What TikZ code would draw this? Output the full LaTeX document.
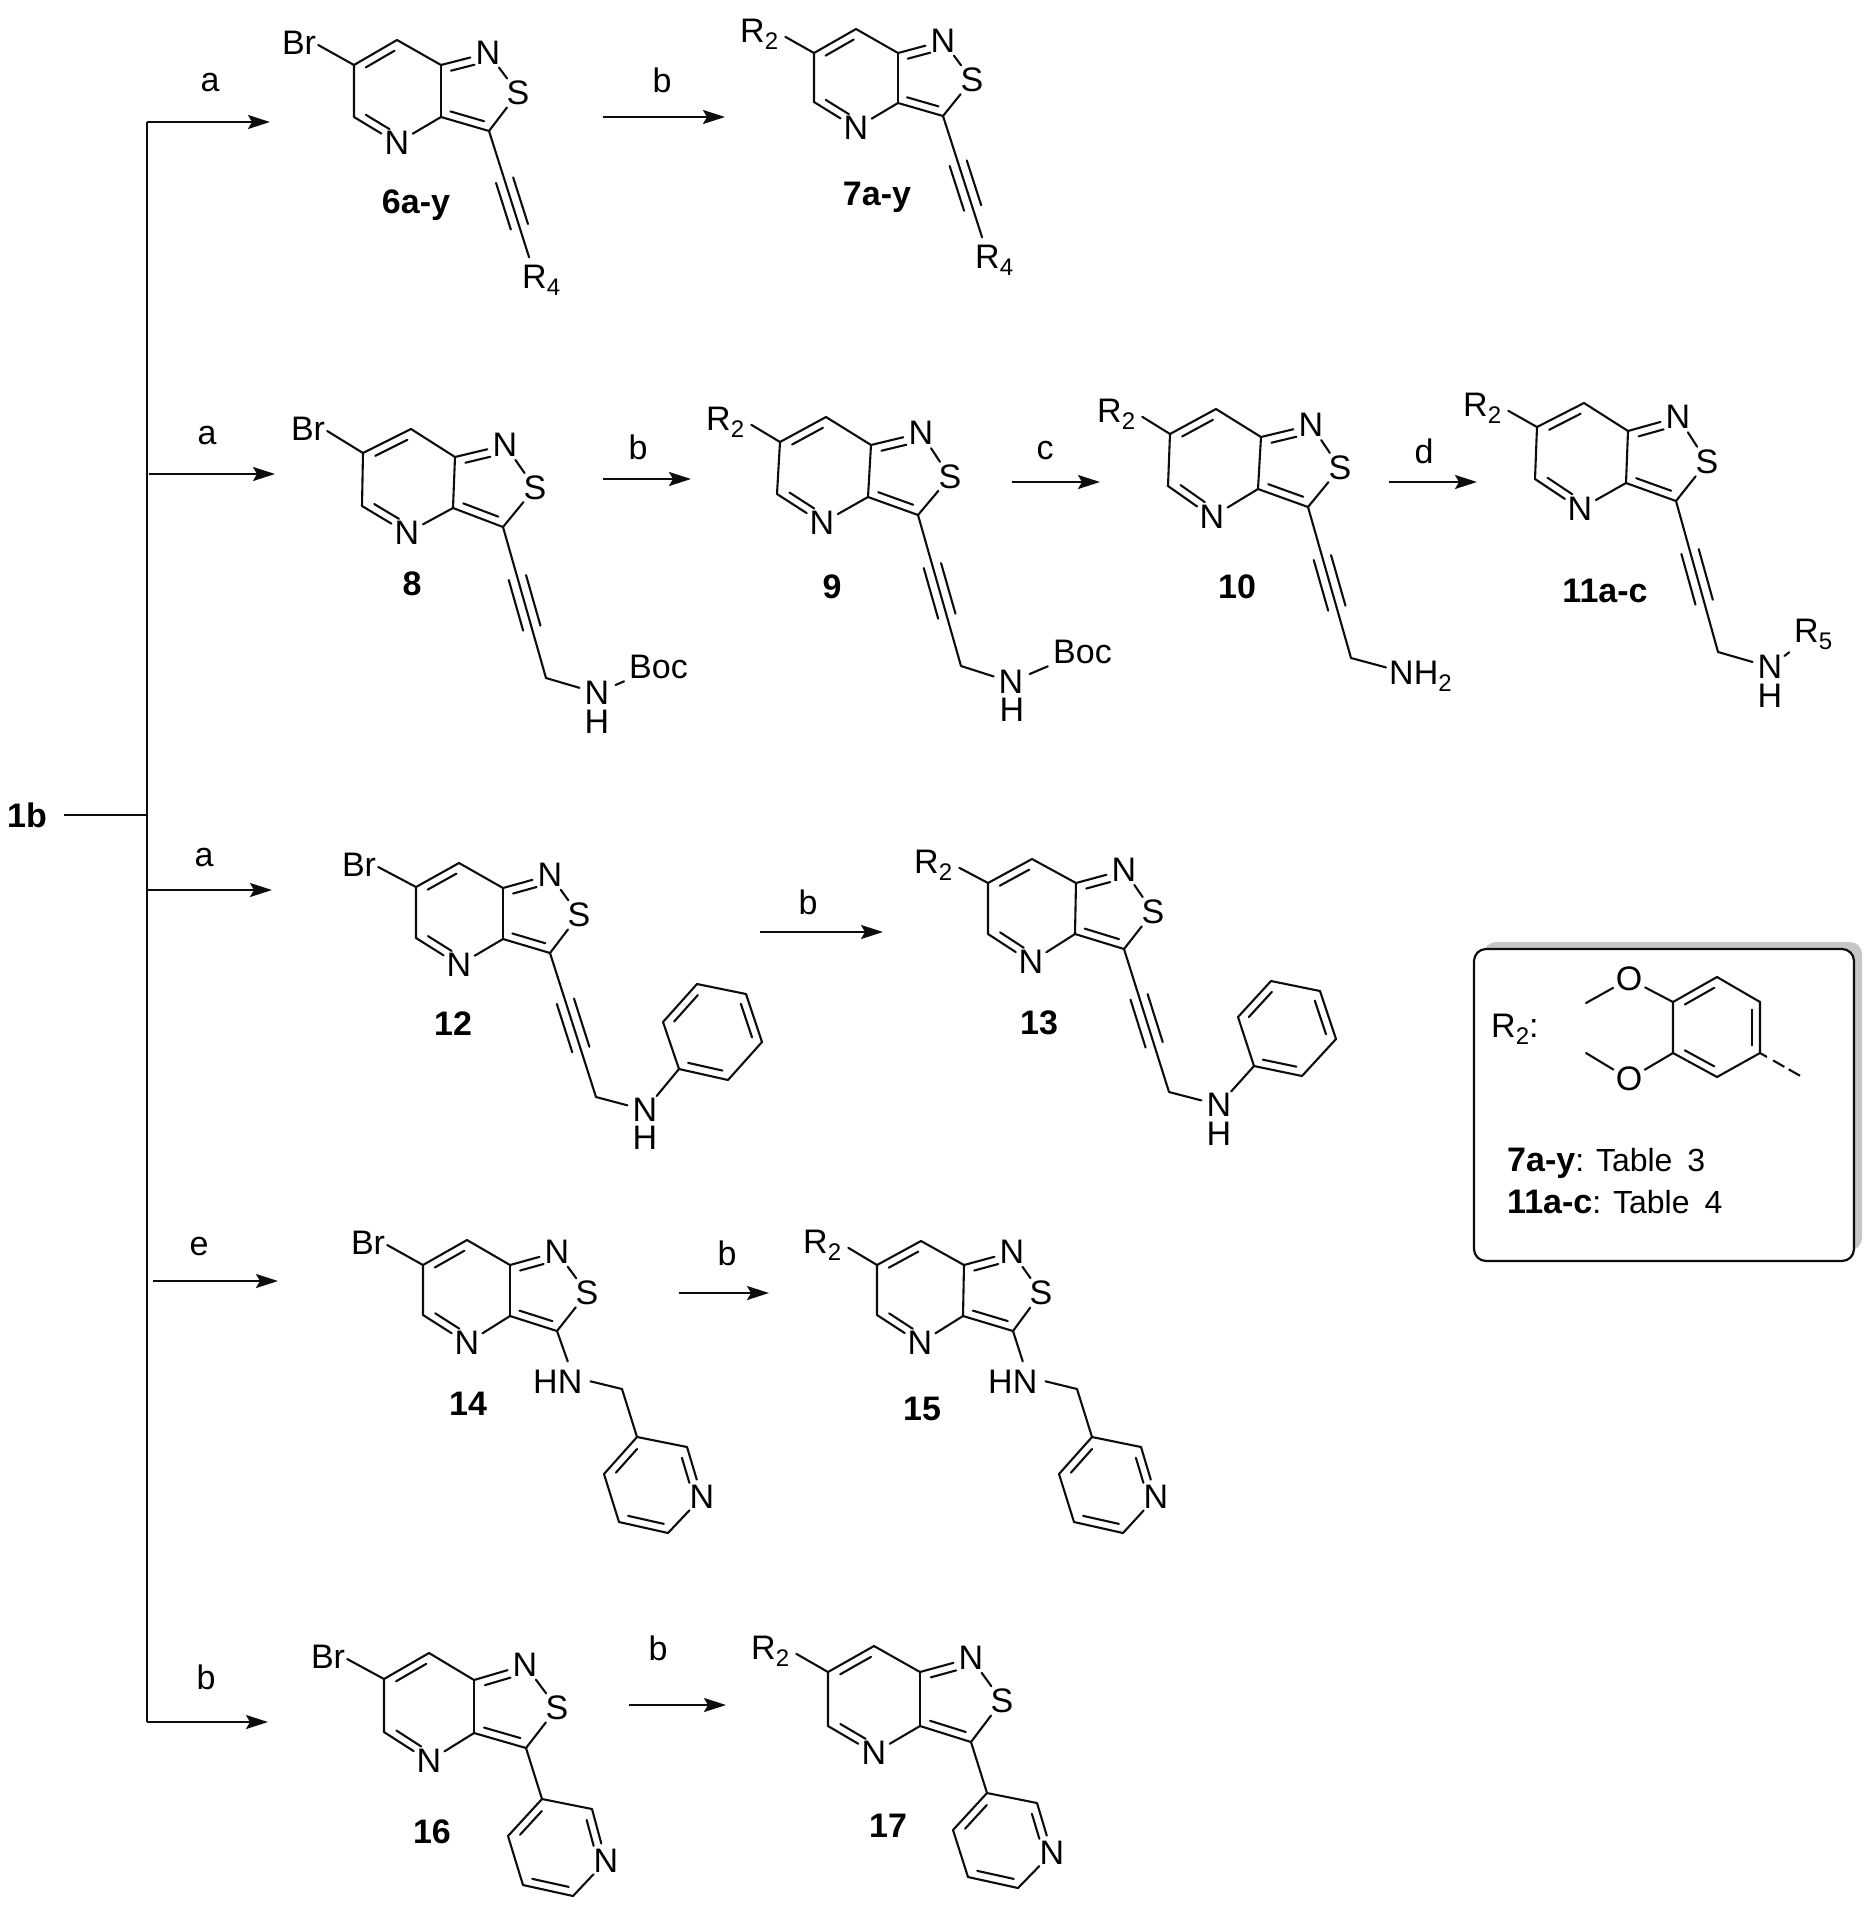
\documentclass[tikz,border=0pt]{standalone}
\usepackage{fontspec}
\setmainfont{Liberation Sans}
\usetikzlibrary{calc,arrows.meta}
\newcommand\chem{\fontsize{34}{38}\selectfont}
\newcommand\boxfont{\fontsize{32}{36}\selectfont}
\newcommand\cmpfont{\fontsize{34}{38}\selectfont\bfseries}
\newcommand\sbb[1]{\raisebox{-7pt}{\fontsize{24}{26}\selectfont #1}}
\tikzset{
  bond/.style={line width=2.1pt,line cap=round,line join=round,draw=black!95},
  rxn/.style={line width=2pt,draw=black!95},
  rxnarrow/.style={rxn,-{Stealth[length=22pt,width=14pt,inset=4pt]}},
  atom/.style={circle,inner sep=0pt,minimum size=36pt,font=\chem,text=black},
  lab/.style={inner sep=0pt,font=\chem,text=black},
  cmp/.style={inner sep=0pt,font=\cmpfont,text=black},
}
\newcommand\dbl[4]{\draw[bond] ($(\mol#1)!#3!(\mol#2)!8pt!-90:(\mol#2)$) -- ($(\mol#1)!#4!(\mol#2)!8pt!-90:(\mol#2)$);}
\newcommand\alkyne[4]{%
  \draw[bond] (\mol#1) -- (\mol#2);
  \draw[bond] ($(\mol#1)!#3!(\mol#2)!9pt!90:(\mol#2)$) -- ($(\mol#1)!#4!(\mol#2)!9pt!90:(\mol#2)$);
  \draw[bond] ($(\mol#1)!#3!(\mol#2)!9pt!-90:(\mol#2)$) -- ($(\mol#1)!#4!(\mol#2)!9pt!-90:(\mol#2)$);}
\newcommand\core[9]{%
  \coordinate (\mol c6) at (#1); \coordinate (\mol c7) at (#2); \coordinate (\mol c7a) at (#3);
  \node[atom] (\mol n1) at (#4) {N}; \node[atom] (\mol s) at (#5) {S};
  \coordinate (\mol c3) at (#6); \coordinate (\mol c3a) at (#7);
  \node[atom] (\mol n4) at (#8) {N}; \coordinate (\mol c5) at (#9);
  \draw[bond] (\mol c6)--(\mol c7)--(\mol c7a)--(\mol n1)--(\mol s)--(\mol c3)--(\mol c3a)--(\mol n4)--(\mol c5)--(\mol c6);
  \draw[bond] (\mol c7a)--(\mol c3a);
  \dbl{c6}{c7}{.18}{.85}\dbl{c7a}{n1}{.17}{.67}\dbl{c3}{c3a}{.15}{.85}\dbl{n4}{c5}{.27}{.82}}
\newcommand\brs[1]{\node[lab] (\mol br) at (#1) {Br}; \draw[bond] (\mol c6) -- ($(\mol br.east)+(2,2)$);}
\newcommand\rtwo[1]{\node[lab,anchor=base west,xshift=-3pt] (\mol rtwo) at (#1) {R\sbb{2}}; \draw[bond] (\mol c6) -- ($(\mol rtwo.east)+(7,3)$);}
\newcommand\rfour[2]{\coordinate (\mol end) at (#1);
  \node[lab,anchor=base west,xshift=-3pt] (\mol rfour) at (#2) {R\sbb{4}};
  \draw[bond] (\mol end) -- ($(\mol rfour.north west)+(7,-7)$);
  \alkyne{c3}{end}{.39}{.76}}
\newcommand\propn[3]{\coordinate (\mol ch2) at (#1); \node[atom] (\mol nh) at (#2) {N}; \node[lab] (\mol h) at (#3) {H};
  \alkyne{c3}{ch2}{.335}{.67} \draw[bond] (\mol ch2)--(\mol nh);}
\newcommand\ring[6]{%
  \coordinate (\mol ra) at (#1); \coordinate (\mol rb) at (#2); \coordinate (\mol rc) at (#3);
  \coordinate (\mol rd) at (#4); \coordinate (\mol re) at (#5); \coordinate (\mol rf) at (#6);
  \draw[bond] (\mol ra)--(\mol rb)--(\mol rc)--(\mol rd)--(\mol re)--(\mol rf)--(\mol ra);
  \dbl{rf}{ra}{.15}{.85}\dbl{rb}{rc}{.15}{.85}\dbl{rd}{re}{.15}{.85}}
\newcommand\pyr[6]{%
  \coordinate (\mol pa) at (#1); \coordinate (\mol pb) at (#2); \node[atom] (\mol pn) at (#3) {N};
  \coordinate (\mol pc) at (#4); \coordinate (\mol pd) at (#5); \coordinate (\mol pe) at (#6);
  \draw[bond] (\mol pa)--(\mol pb)--(\mol pn)--(\mol pc)--(\mol pd)--(\mol pe)--(\mol pa);
  \dbl{pb}{pn}{.17}{.67}\dbl{pc}{pd}{.12}{.85}\dbl{pe}{pa}{.18}{.82}}
\newcommand\benamine[2]{\coordinate (\mol cm) at (#1); \node[lab,anchor=base west,xshift=-3pt] (\mol hn) at (#2) {HN};
  \draw[bond] (\mol c3) -- ($(\mol hn.north)+(10,-8)$);
  \draw[bond] ($(\mol hn.east)+(8,0)$) -- (\mol cm) -- (\mol pa);}
\begin{document}
\begin{tikzpicture}[x=1pt,y=-1pt]
\path[use as bounding box,fill=white] (0,0) rectangle (1873,1909);
% ---- reaction tree
\node[cmp] (start) at (27,815) {1b};
\coordinate (tt) at (146.5,122); \coordinate (tb) at (146.5,1722); \coordinate (jn) at (146.5,815);
\draw[rxn] (tt) -- (tb);
\draw[rxn,shorten <=17pt] (start) -- (jn);
\coordinate (a1e) at (270,122);
\draw[rxnarrow] (tt) -- (a1e); \node[lab] (la1) at (210,83) {a};
\coordinate (a2s) at (149,474); \coordinate (a2e) at (275,474);
\draw[rxnarrow] (a2s) -- (a2e); \node[lab] (la2) at (207,436) {a};
\coordinate (a3s) at (146.5,890); \coordinate (a3e) at (272,890);
\draw[rxnarrow] (a3s) -- (a3e); \node[lab] (la3) at (204,858) {a};
\coordinate (a4s) at (152.5,1281); \coordinate (a4e) at (278,1281);
\draw[rxnarrow] (a4s) -- (a4e); \node[lab] (la4) at (199,1247) {e};
\coordinate (a5e) at (268,1722);
\draw[rxnarrow] (tb) -- (a5e); \node[lab] (la5) at (206,1677) {b};
% ---- step arrows
\coordinate (s1s) at (603,117); \coordinate (s1e) at (725,117);
\draw[rxnarrow] (s1s) -- (s1e); \node[lab] (ls1) at (662,80) {b};
\coordinate (s2s) at (603,479); \coordinate (s2e) at (691,479);
\draw[rxnarrow] (s2s) -- (s2e); \node[lab] (ls2) at (638,447) {b};
\coordinate (s3s) at (1012,482); \coordinate (s3e) at (1100,482);
\draw[rxnarrow] (s3s) -- (s3e); \node[lab] (ls3) at (1045,451) {c};
\coordinate (s4s) at (1389,482); \coordinate (s4e) at (1477,482);
\draw[rxnarrow] (s4s) -- (s4e); \node[lab] (ls4) at (1424,451) {d};
\coordinate (s5s) at (760,932); \coordinate (s5e) at (883,932);
\draw[rxnarrow] (s5s) -- (s5e); \node[lab] (ls5) at (808,902) {b};
\coordinate (s6s) at (679,1293); \coordinate (s6e) at (769,1293);
\draw[rxnarrow] (s6s) -- (s6e); \node[lab] (ls6) at (727,1253) {b};
\coordinate (s7s) at (629,1705); \coordinate (s7e) at (726,1705);
\draw[rxnarrow] (s7s) -- (s7e); \node[lab] (ls7) at (658,1648) {b};
% ---- 6a-y
\def\mol{m6}
\core{354,65}{397,40}{441,65}{488,53}{518,93}{489,131}{441,117}{397,143}{354,117}
\brs{299,43}
\rfour{529,257}{525,288}
\node[cmp] (c6ay) at (416,205) {6a-y};
% ---- 7a-y
\def\mol{m7}
\core{814,53}{856,29}{898,53}{943,41}{972,80}{943,116}{898,103}{856,128}{814,102}
\rtwo{743,42}
\rfour{982,237}{978,268}
\node[cmp] (c7ay) at (877,197) {7a-y};
% ---- 8
\def\mol{m8}
\core{363,453}{411,429}{455,457}{505,445}{535,488}{503,527}{453,508}{407,533}{362,506}
\brs{308,429}
\propn{546,678}{597,693}{597,722}
\node[lab,anchor=base west] (\mol boc) at (629,678) {Boc};
\draw[bond,shorten >=7pt,shorten <=2pt] (\mol nh) -- (\mol boc);
\node[cmp] (c8) at (412,584) {8};
% ---- 9
\def\mol{m9}
\core{780,442}{826,417}{871,445}{921,433}{950,477}{918,515}{868,497}{822,523}{777,494}
\rtwo{709,430}
\propn{961,666}{1011,682}{1012,710}
\node[lab,anchor=base west] (\mol boc) at (1053,663) {Boc};
\draw[bond,shorten >=7pt,shorten <=2pt] (\mol nh) -- (\mol boc);
\node[cmp] (c9) at (832,587) {9};
% ---- 10
\def\mol{m10}
\core{1170,434}{1216,409}{1261,437}{1311,425}{1340,468}{1308,507}{1258,489}{1212,517}{1168,486}
\rtwo{1100,422}
\coordinate (\mol ch2) at (1351,658);
\alkyne{c3}{ch2}{.335}{.67}
\node[lab,anchor=base west] (\mol nhh) at (1389,684) {NH\sbb{2}};
\draw[bond] (\mol ch2) -- ($(\mol nhh.north west)+(-3,7)$);
\node[cmp] (c10) at (1237,587) {10};
% ---- 11a-c
\def\mol{m11}
\core{1537,427}{1584,403}{1628,431}{1678,417}{1707,462}{1676,501}{1626,483}{1580,509}{1535,479}
\rtwo{1466,416}
\propn{1718,652}{1770,667}{1770,696}
\node[lab,anchor=base west] (\mol rfive) at (1794,642) {R\sbb{5}};
\draw[bond,shorten >=6pt] (\mol nh) -- (\mol rfive);
\node[cmp] (c11) at (1605,591) {11a-c};
% ---- 12
\def\mol{m12}
\core{416,887}{459,863}{503,888}{550,875}{579,915}{550,953}{503,939}{459,965}{416,938}
\brs{359,865}
\propn{596,1097}{645,1110}{645,1138}
\ring{679,1069}{663,1022}{697,984}{746,994}{762,1042}{728,1080}
\draw[bond] (\mol nh) -- (\mol ra);
\node[cmp] (c12) at (453,1024) {12};
% ---- 13
\def\mol{m13}
\core{988,883}{1032,859}{1076,883}{1124,870}{1153,912}{1124,949}{1075,934}{1031,962}{988,934}
\rtwo{917,873}
\propn{1169,1092}{1219,1105}{1219,1134}
\ring{1254,1066}{1238,1017}{1271,981}{1320,991}{1336,1039}{1302,1076}
\draw[bond] (\mol nh) -- (\mol ra);
\node[cmp] (c13) at (1039,1023) {13};
% ---- 14
\def\mol{m14}
\core{423,1265}{467,1240}{510,1265}{557,1252}{587,1293}{557,1331}{510,1316}{467,1343}{423,1315}
\brs{368,1243}
\pyr{637,1437}{687,1447}{702,1497}{668,1533}{619,1522}{604,1474}
\benamine{622,1389}{536,1393}
\node[cmp] (c14) at (468,1404) {14};
% ---- 15
\def\mol{m15}
\core{877,1265}{921,1241}{964,1265}{1012,1252}{1041,1293}{1013,1331}{963,1316}{920,1343}{877,1315}
\rtwo{806,1253}
\pyr{1092,1437}{1141,1447}{1156,1497}{1123,1533}{1074,1522}{1059,1474}
\benamine{1077,1389}{991,1393}
\node[cmp] (c15) at (922,1409) {15};
% ---- 16
\def\mol{m16}
\core{384,1679}{429,1653}{474,1680}{525,1665}{557,1708}{526,1748}{474,1733}{429,1761}{384,1732}
\brs{328,1657}
\pyr{542,1799}{592,1809}{606,1861}{573,1896}{523,1885}{508,1836}
\draw[bond] (\mol c3) -- (\mol pa);
\node[cmp] (c16) at (432,1832) {16};
% ---- 17
\def\mol{m17}
\core{828,1672}{874,1646}{920,1672}{971,1658}{1002,1701}{971,1742}{920,1726}{874,1753}{828,1726}
\rtwo{754,1659}
\pyr{987,1793}{1037,1803}{1052,1853}{1018,1888}{968,1877}{953,1830}
\draw[bond] (\mol c3) -- (\mol pa);
\node[cmp] (c17) at (888,1826) {17};
% ---- legend box
\fill[black!22,rounded corners=12pt] (1484,942) rectangle (1862,1250);
\draw[line width=2.2pt,fill=white,draw=black!95,rounded corners=12pt] (1474,949) rectangle (1854,1261);
\node[lab,anchor=base west] (boxr) at (1491,1037) {R\sbb{2}:};
\def\mol{bx}
\coordinate (bxa) at (1673,1053); \coordinate (bxb) at (1673,1002); \coordinate (bxc) at (1717,977);
\coordinate (bxd) at (1760,1002); \coordinate (bxe) at (1760,1053); \coordinate (bxf) at (1717,1077);
\draw[bond] (bxa)--(bxb)--(bxc)--(bxd)--(bxe)--(bxf)--(bxa);
\dbl{b}{c}{.18}{.85}\dbl{d}{e}{.15}{.85}\dbl{f}{a}{.15}{.82}
\node[atom] (bxo) at (1629,979) {O}; \node[atom] (bxp) at (1629,1079) {O};
\coordinate (bxme) at (1586,1003); \coordinate (bxmf) at (1586,1053); \coordinate (bxw) at (1804,1078);
\draw[bond] (bxb)--(bxo)--(bxme);
\draw[bond] (bxa)--(bxp)--(bxmf);
\draw[bond,line cap=butt,dash pattern=on 8pt off 7pt on 13pt off 5pt on 13pt] (bxe)--(bxw);
\node[lab,anchor=base west] (tb3) at (1507,1171) {{\fontsize{34}{38}\selectfont\bfseries 7a-y}\boxfont: Table\hspace{15pt}3};
\node[lab,anchor=base west] (tb4) at (1507,1213) {{\fontsize{34}{38}\selectfont\bfseries 11a-c}\boxfont: Table\hspace{15pt}4};
\end{tikzpicture}
\end{document}
